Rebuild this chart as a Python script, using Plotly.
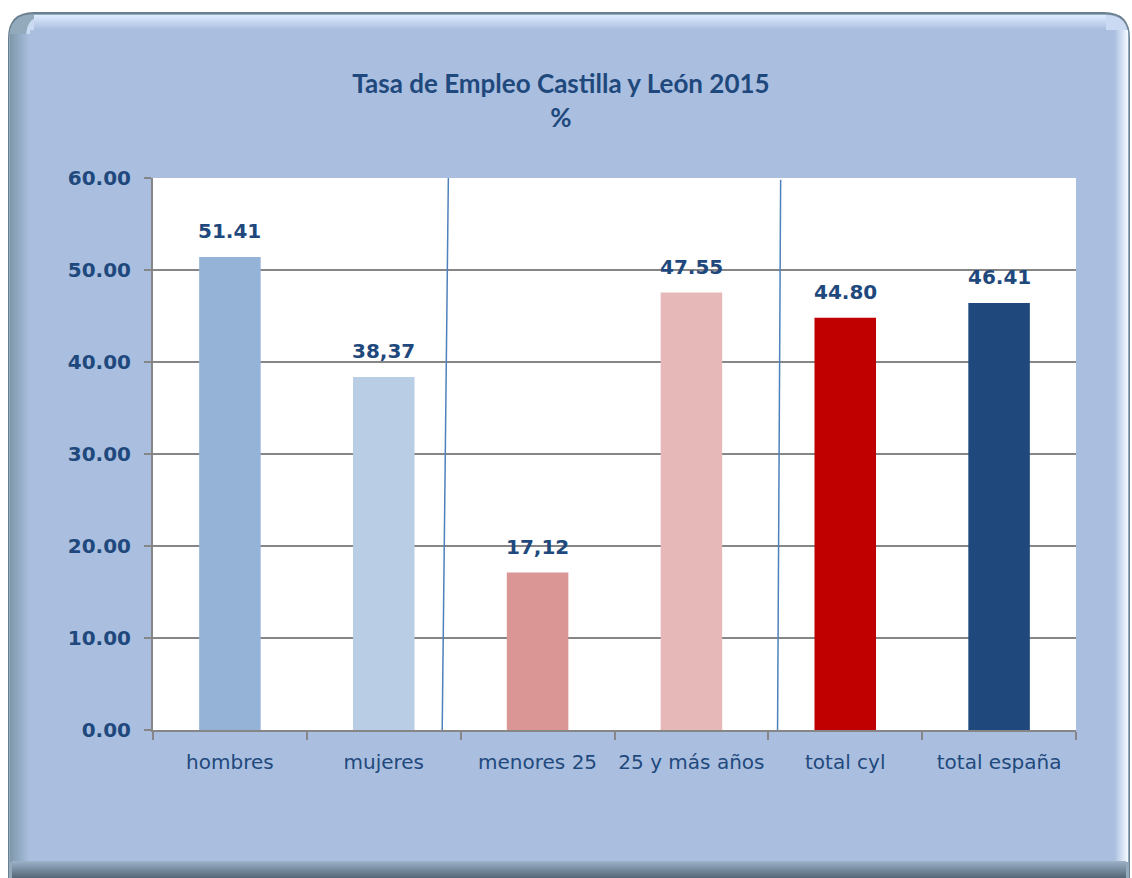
import plotly.graph_objects as go

categories = ["hombres", "mujeres", "menores 25", "25 y más años", "total cyl", "total españa"]
values = [51.41, 38.37, 17.12, 47.55, 44.80, 46.41]
value_labels = ["51.41", "38,37", "17,12", "47.55", "44.80", "46.41"]
bar_colors = ["#95B3D7", "#B9CDE5", "#D99694", "#E6B9B8", "#C00000", "#1F497D"]
y_ticks = [0, 10, 20, 30, 40, 50, 60]
title_lines = ["Tasa de Empleo Castilla y León 2015", "%"]

W, H = 1132, 878
L, R, T, B = 153, 1076, 178, 730
PW, PH = R - L, B - T

def px(x):
    return (x - L) / PW

def py(y):
    return (B - y) / PH

def rrect(x0, y0, x1, y1, r):
    l, rr, t, b = px(x0), px(x1), py(y0), py(y1)
    rx, ry = r / PW, r / PH
    return (f"M {l+rx},{t} L {rr-rx},{t} Q {rr},{t} {rr},{t-ry} L {rr},{b+ry} "
            f"Q {rr},{b} {rr-rx},{b} L {l+rx},{b} Q {l},{b} {l},{b+ry} L {l},{t-ry} Q {l},{t} {l+rx},{t} Z")

def hex2rgb(h):
    h = h.lstrip("#")
    return tuple(int(h[i:i + 2], 16) for i in (0, 2, 4))

def lerp(c1, c2, t):
    a, b = hex2rgb(c1), hex2rgb(c2)
    return "rgb(%d,%d,%d)" % tuple(round(a[k] + (b[k] - a[k]) * t) for k in range(3))

NAVY = "#1F497D"
GRID = "#868686"
MAIN = "#AABFDF"

fig = go.Figure()
fig.add_trace(go.Bar(
    x=categories, y=values, marker=dict(color=bar_colors, line=dict(width=0)),
    width=0.4, hoverinfo="skip", showlegend=False,
))

shapes = []
def add_path(path, color):
    shapes.append(dict(type="path", path=path, xref="paper", yref="paper",
                       fillcolor=color, line=dict(width=0), layer="below"))

def add_rect(x0, y0, x1, y1, color):
    shapes.append(dict(type="rect", xref="paper", yref="paper",
                       x0=px(x0), x1=px(x1), y0=py(y1), y1=py(y0),
                       fillcolor=color, line=dict(width=0), layer="below"))

# ---- decorative bevelled frame ----
add_path(rrect(8, 12, 1130, 905, 26), "#6A808F")
add_path(rrect(9, 14, 1129, 904, 25), "#93AABD")
add_path(rrect(26, 15, 1128, 600, 22), "#C9DAF2")
# left bevel (dark -> main)
n = 20
for i in range(n):
    add_rect(10 + i, 34, 11 + i, 862, lerp("#7F99AB", MAIN, i / (n - 1)))
# top bevel (light -> main)
n = 15
for j in range(n):
    add_rect(34, 15 + j, 1106, 16 + j, lerp("#DCEAFD", MAIN, j / (n - 1)))
# right bevel (main -> near white)
n = 14
for i in range(n):
    add_rect(1114 + i, 30, 1115 + i, 862, lerp(MAIN, "#F2F8FF", i / (n - 1)))
# bottom bevel (mid -> dark)
n = 17
for j in range(n):
    add_rect(12, 861 + j, 1126, 862 + j, lerp("#9AB0C6", "#56697A", j / (n - 1)))
# main fill
add_rect(30, 30, 1114, 861, MAIN)

# white plot area
shapes.append(dict(type="rect", xref="paper", yref="paper", x0=0, x1=1, y0=0, y1=1,
                   fillcolor="white", line=dict(width=0), layer="below"))
# separator lines (hand-drawn, slightly slanted)
shapes.append(dict(type="line", xref="x", yref="y", x0=1.38, x1=1.42, y0=0, y1=60,
                   line=dict(color="#4F81BD", width=1.5)))
shapes.append(dict(type="line", xref="x", yref="y", x0=3.56, x1=3.58, y0=0, y1=59.8,
                   line=dict(color="#4F81BD", width=1.5)))

annotations = []
for c, v, t in zip(categories, values, value_labels):
    annotations.append(dict(x=c, y=v, text=t, xref="x", yref="y", showarrow=False,
                            yanchor="bottom", yshift=12,
                            font=dict(family="DejaVu Sans", size=20, color=NAVY, weight="bold")))

fig.update_layout(
    width=W, height=H,
    margin=dict(l=L, r=W - R, t=T, b=H - B, pad=0),
    paper_bgcolor="white",
    plot_bgcolor="rgba(0,0,0,0)",
    title=dict(text="<br>".join(title_lines), x=561 / W, xanchor="center",
               y=1 - 93 / H, yanchor="top",
               font=dict(family="Lato", size=26, color=NAVY, weight="bold")),
    shapes=shapes,
    annotations=annotations,
    bargap=0.6,
    xaxis=dict(type="category", categoryorder="array", categoryarray=categories,
               range=[-0.5, 5.5], showgrid=False, showline=True, linecolor=GRID, linewidth=2,
               ticks="outside", tickson="boundaries", ticklen=8, tickwidth=2, tickcolor=GRID,
               tickangle=0,
               tickfont=dict(family="DejaVu Sans", size=20, color=NAVY),
               ticklabelstandoff=13, fixedrange=True),
    yaxis=dict(range=[0, 60], tickvals=y_ticks, tickformat=".2f",
               showgrid=True, gridcolor=GRID, gridwidth=1.5,
               zeroline=False, showline=True, linecolor=GRID, linewidth=2,
               ticks="outside", ticklen=7, tickwidth=2, tickcolor=GRID,
               tickfont=dict(family="DejaVu Sans", size=20, color=NAVY, weight="bold"),
               ticklabelstandoff=9, fixedrange=True),
)

fig.write_html("out.html", config={"displayModeBar": False},
               post_script="document.body.style.margin='0';document.body.style.overflow='hidden';")
